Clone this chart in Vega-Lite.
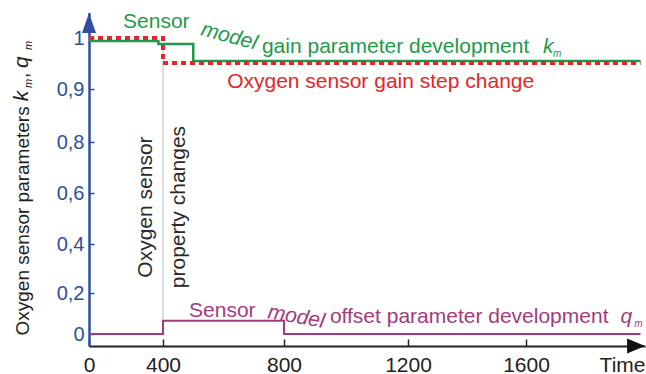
{
  "$schema": "https://vega.github.io/schema/vega-lite/v6.json",
  "width": 557,
  "height": 346,
  "autosize": {"type": "none"},
  "padding": {"left": 89, "top": 0, "right": 0, "bottom": 28},
  "background": "white",
  "config": {"view": {"stroke": null}, "font": "Liberation Sans"},
  "datasets": {
    "series": [
      {"s": "km", "t": 0, "v": 0.994}, {"s": "km", "t": 375, "v": 0.988}, {"s": "km", "t": 500, "v": 0.955}, {"s": "km", "t": 1985, "v": 0.955},
      {"s": "step", "t": 0, "v": 1.0}, {"s": "step", "t": 400, "v": 0.951}, {"s": "step", "t": 1985, "v": 0.951},
      {"s": "qm", "t": 0, "v": 0}, {"s": "qm", "t": 400, "v": 0.065}, {"s": "qm", "t": 800, "v": 0}, {"s": "qm", "t": 1985, "v": 0}
    ],
    "marker": [{"t": 400, "v": 0.065, "v2": 0.99}],
    "upright": [
      {"s": "km", "t": 184, "v": 1.0196, "text": "Sensor"},
      {"s": "km", "t": 727, "v": 0.9706, "text": "gain parameter development"},
      {"s": "step", "t": 612, "v": 0.902, "text": "Oxygen sensor gain step change"},
      {"s": "qm", "t": 486, "v": 0.083, "text": "Sensor"},
      {"s": "qm", "t": 948, "v": 0.0537, "text": "offset parameter development"}
    ],
    "italicVar": [
      {"s": "km", "t": 1657, "v": 0.9706, "text": "k"},
      {"s": "qm", "t": 1918, "v": 0.0537, "text": "q"}
    ],
    "subs": [
      {"s": "km", "t": 1691, "v": 0.9627, "text": "m"},
      {"s": "qm", "t": 1964, "v": 0.036, "text": "m"}
    ],
    "modelKm": [{"s": "km", "t": 522, "v": 1.006, "text": "model"}],
    "modelQm": [{"s": "qm", "t": 744, "v": 0.078, "text": "model"}],
    "notes": [
      {"t": 341, "v": 0.545, "text": "Oxygen sensor"},
      {"t": 473, "v": 0.545, "text": "property changes"}
    ],
    "titleVars": [{"t": -330, "v": 0.877, "text": "k"}, {"t": -330, "v": 0.941, "text": "q"}],
    "titleComma": [{"t": -330, "v": 0.9216, "text": ","}],
    "titleSubs": [{"t": -308, "v": 0.902, "text": "m"}, {"t": -308, "v": 0.9765, "text": "m"}],
    "arrowY": [{"t": 0, "v": 1.0294}],
    "arrowX": [{"t": 1970, "v": -0.06}]
  },
  "encoding": {
    "x": {
      "field": "t", "type": "quantitative",
      "scale": {"domain": [0, 400, 800, 1200, 1600, 2000], "range": [0, 74, 195, 319, 437, 556], "nice": false, "zero": false},
      "axis": {
        "values": [0, 400, 800, 1200, 1600],
        "format": "d",
        "grid": false,
        "title": "Time",
        "titleAnchor": "end", "titleAlign": "right", "titleBaseline": "alphabetic",
        "titleX": 556, "titleY": 25,
        "titleFontSize": 21, "titleFontWeight": "normal", "titleColor": "#222222",
        "labelFontSize": 21, "labelColor": "#222222", "labelPadding": 15,
        "labelFlush": false, "labelOverlap": false,
        "tickSize": -7, "tickColor": "#222222", "tickWidth": 1.5,
        "domainColor": "#222222", "domainWidth": 2
      }
    },
    "y": {
      "field": "v", "type": "quantitative",
      "scale": {"domain": [-0.06, 0, 0.2, 0.4, 0.6, 0.8, 0.9, 1, 1.05], "range": [346, 334, 293, 244, 193, 142, 89, 38, 12.5], "nice": false, "zero": false},
      "axis": {
        "values": [0, 0.2, 0.4, 0.6, 0.8, 0.9, 1],
        "format": ".1~f",
        "labelExpr": "replace(datum.label, '.', ',')",
        "grid": false,
        "title": "Oxygen sensor parameters",
        "titleAngle": 270, "titleAlign": "left", "titleBaseline": "alphabetic",
        "titleX": -61, "titleY": 335,
        "titleFontSize": 19, "titleFontWeight": "normal", "titleColor": "#222222",
        "labelFontSize": 20, "labelColor": "#2d4f9e", "labelPadding": 10,
        "labelFlush": false, "labelOverlap": false,
        "tickSize": -5, "tickColor": "#2d4f9e", "tickWidth": 1.5,
        "domainColor": "#2d4f9e", "domainWidth": 2.5
      }
    }
  },
  "layer": [
    {
      "data": {"name": "marker"},
      "mark": {"type": "rule", "color": "#bdbdbd", "strokeWidth": 1},
      "encoding": {"y2": {"field": "v2"}}
    },
    {
      "data": {"name": "series"},
      "transform": [{"filter": "datum.s === 'qm'"}],
      "mark": {"type": "line", "interpolate": "step-after", "color": "#a23b7e", "strokeWidth": 2}
    },
    {
      "data": {"name": "series"},
      "transform": [{"filter": "datum.s === 'km'"}],
      "mark": {"type": "line", "interpolate": "step-after", "color": "#1e9a4a", "strokeWidth": 2.5}
    },
    {
      "data": {"name": "series"},
      "transform": [{"filter": "datum.s === 'step'"}],
      "mark": {"type": "line", "interpolate": "step-after", "color": "#e3262b", "strokeWidth": 4, "strokeDash": [5, 4], "strokeCap": "butt"}
    },
    {
      "data": {"name": "upright"},
      "mark": {"type": "text", "align": "left", "baseline": "alphabetic", "fontSize": 21},
      "encoding": {
        "text": {"field": "text"},
        "color": {"field": "s", "type": "nominal", "scale": {"domain": ["km", "step", "qm"], "range": ["#1e9a4a", "#e3262b", "#a23b7e"]}, "legend": null}
      }
    },
    {
      "data": {"name": "italicVar"},
      "mark": {"type": "text", "align": "left", "baseline": "alphabetic", "fontSize": 21, "fontStyle": "italic"},
      "encoding": {
        "text": {"field": "text"},
        "color": {"field": "s", "type": "nominal", "legend": null}
      }
    },
    {
      "data": {"name": "subs"},
      "mark": {"type": "text", "align": "left", "baseline": "alphabetic", "fontSize": 10, "fontStyle": "italic"},
      "encoding": {
        "text": {"field": "text"},
        "color": {"field": "s", "type": "nominal", "legend": null}
      }
    },
    {
      "data": {"name": "modelKm"},
      "mark": {"type": "text", "align": "left", "baseline": "alphabetic", "fontSize": 21, "fontStyle": "italic", "angle": 15},
      "encoding": {
        "text": {"field": "text"},
        "color": {"field": "s", "type": "nominal", "legend": null}
      }
    },
    {
      "data": {"name": "modelQm"},
      "mark": {"type": "text", "align": "left", "baseline": "alphabetic", "fontSize": 21, "fontStyle": "italic", "angle": 10},
      "encoding": {
        "text": {"field": "text"},
        "color": {"field": "s", "type": "nominal", "legend": null}
      }
    },
    {
      "data": {"name": "notes"},
      "mark": {"type": "text", "align": "center", "baseline": "alphabetic", "fontSize": 21, "angle": 270, "color": "#2a2a2a"},
      "encoding": {"text": {"field": "text"}}
    },
    {
      "data": {"name": "titleVars"},
      "mark": {"type": "text", "align": "left", "baseline": "alphabetic", "fontSize": 21, "fontStyle": "italic", "angle": 270, "color": "#222222"},
      "encoding": {"text": {"field": "text"}}
    },
    {
      "data": {"name": "titleComma"},
      "mark": {"type": "text", "align": "left", "baseline": "alphabetic", "fontSize": 19, "angle": 270, "color": "#222222"},
      "encoding": {"text": {"field": "text"}}
    },
    {
      "data": {"name": "titleSubs"},
      "mark": {"type": "text", "align": "left", "baseline": "alphabetic", "fontSize": 11, "fontStyle": "italic", "angle": 270, "color": "#222222"},
      "encoding": {"text": {"field": "text"}}
    },
    {
      "data": {"name": "arrowY"},
      "mark": {"type": "point", "shape": "M0,-1L0.7,1L-0.7,1Z", "size": 400, "filled": true, "color": "#2d4f9e", "opacity": 1}
    },
    {
      "data": {"name": "arrowX"},
      "mark": {"type": "point", "shape": "M1,0L-1,-0.83L-1,0.83Z", "size": 324, "filled": true, "color": "#111111", "opacity": 1}
    }
  ]
}
